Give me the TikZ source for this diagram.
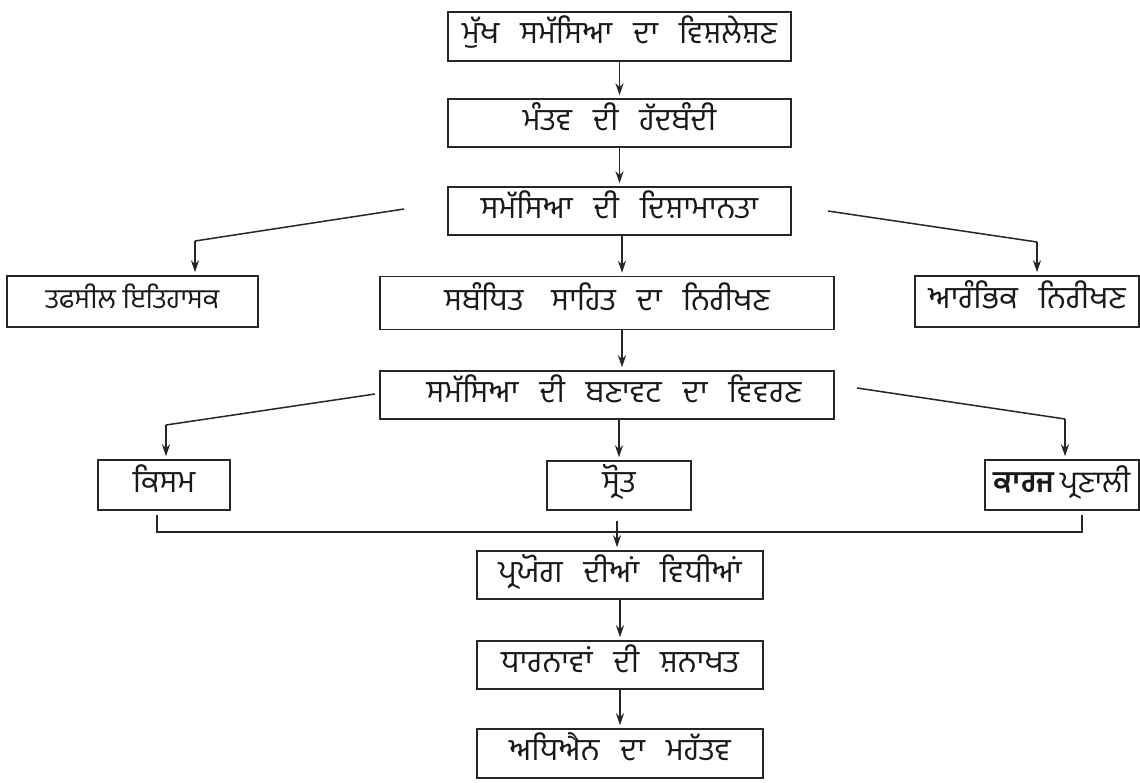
\documentclass[tikz,border=0pt]{standalone}
\usepackage{fontspec}
\newfontfamily\pa[Script=Gurmukhi]{Hind Jalandhar}
\usetikzlibrary{arrows.meta,calc}
\newcommand\wg{\hspace{21pt}}
\tikzset{
  box/.style={draw=black!85,line width=1.5pt,inner sep=0pt,text height=21pt,text depth=7pt,
    font=\pa\fontsize{31}{34}\selectfont,text=black!90},
  conn/.style={draw=black!85,line width=1.5pt},
  arr/.style={conn,-{Stealth[length=12pt,width=8pt,inset=4pt]},shorten >=3pt}
}
\begin{document}
\begin{tikzpicture}[x=1pt,y=-1pt]
\useasboundingbox (0,0) rectangle (1140,782);
% boxes
\node[box,minimum width=343,minimum height=49] (b1) at (619.5,36.5) {ਮੁੱਖ\wg ਸਮੱਸਿਆ\wg ਦਾ\wg ਵਿਸ਼ਲੇਸ਼ਣ};
\node[box,minimum width=343,minimum height=48] (b2) at (619.5,123) {ਮੰਤਵ\wg ਦੀ\wg ਹੱਦਬੰਦੀ};
\node[box,minimum width=343,minimum height=48] (b3) at (619.5,211) {ਸਮੱਸਿਆ\wg ਦੀ\wg ਦਿਸ਼ਾਮਾਨਤਾ};
\node[box,minimum width=251,minimum height=51,font=\pa\fontsize{27.5}{30}\selectfont] (b4) at (132.5,301.5) {ਤਫਸੀਲ ਇਤਿਹਾਸਕ};
\node[box,minimum width=454,minimum height=53] (b5) at (607,303) {ਸਬੰਧਿਤ\hspace{28pt}ਸਾਹਿਤ\wg ਦਾ\wg ਨਿਰੀਖਣ};
\node[box,minimum width=224,minimum height=51] (b6) at (1027,301.5) {ਆਰੰਭਿਕ\wg ਨਿਰੀਖਣ};
\node[box,minimum width=454,minimum height=48] (b7) at (607,395) {\hspace*{14pt}ਸਮੱਸਿਆ\wg ਦੀ\wg ਬਣਾਵਟ\wg ਦਾ\wg ਵਿਵਰਣ};
\node[box,minimum width=132,minimum height=50] (b8) at (164,485) {ਕਿਸਮ};
\node[box,minimum width=144,minimum height=49] (b9) at (619,485.5) {ਸ੍ਰੋਤ};
\node[box,minimum width=154,minimum height=50,font=\pa\fontsize{30}{32}\selectfont] (b10) at (1062,485) {\textbf{ਕਾਰਜ}\,ਪ੍ਰਣਾਲੀ};
\node[box,minimum width=286,minimum height=48] (b11) at (620,575) {ਪ੍ਰਯੋਗ\wg ਦੀਆਂ\wg ਵਿਧੀਆਂ};
\node[box,minimum width=286,minimum height=48] (b12) at (620,665) {ਧਾਰਨਾਵਾਂ\wg ਦੀ\wg ਸ਼ਨਾਖਤ};
\node[box,minimum width=286,minimum height=49] (b13) at (620,753.5) {ਅਧਿਐਨ\wg ਦਾ\wg ਮਹੱਤਵ};
% vertical arrows
\draw[arr] (b1.south) -- (b2.north);
\draw[arr] (b2.south) -- (b3.north);
\draw[arr] ([xshift=2.5pt]b3.south) -- ([xshift=2.5pt]b3.south |- b5.north);
\draw[arr] ([xshift=15pt]b5.south) -- ([xshift=15pt]b5.south |- b7.north);
\draw[arr] ([xshift=12pt]b7.south) -- ([xshift=12pt]b7.south |- b9.north);
\draw[arr] (b11.south) -- (b12.north);
\draw[arr] (b12.south) -- (b13.north);
% branches from b3
\coordinate (l3s) at (404,209);
\coordinate (l3k) at (195,241);
\coordinate (r3s) at (828,211);
\coordinate (r3k) at (1037,242);
\draw[conn] (l3s) -- (l3k);
\draw[arr] (l3k) -- (l3k |- b4.north);
\draw[conn] (r3s) -- (r3k);
\draw[arr] (r3k) -- (r3k |- b6.north);
% branches from b7
\coordinate (l7s) at (375,394);
\coordinate (l7k) at (166,425);
\coordinate (r7s) at (857,388);
\coordinate (r7k) at (1065,419);
\draw[conn] (l7s) -- (l7k);
\draw[arr] (l7k) -- (l7k |- b8.north);
\draw[conn] (r7s) -- (r7k);
\draw[arr] (r7k) -- (r7k |- b10.north);
% bottom bracket
\coordinate (bl) at (157,515);
\coordinate (br) at (1082,515);
\coordinate (bj) at (617,521);
\draw[conn] (bl) |- (br |- 0,532) -- (br);
\draw[arr] (bj) -- (bj |- b11.north);
\end{tikzpicture}
\end{document}
